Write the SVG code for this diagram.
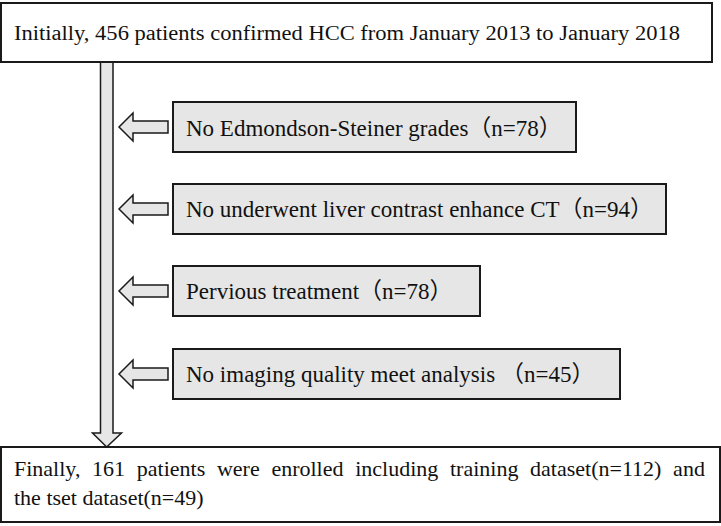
<svg xmlns="http://www.w3.org/2000/svg" width="721" height="526" viewBox="0 0 721 526">
<style>
.box{fill:#fff;stroke:#1a1a1a;stroke-width:2}
.ex{fill:#e6e6e6;stroke:#1a1a1a;stroke-width:2}
.arr{fill:#e6e6e6;stroke:#1a1a1a;stroke-width:1.5}
text{font-family:"Liberation Serif","Noto Sans CJK SC",serif;font-size:22px;fill:#111}
.et{font-size:23px}
</style>
<rect width="721" height="526" fill="#fff"/>
<g id="connectors">
<path class="arr" d="M100.5,62 L113,62 L113,433 L121.5,433 L106.7,447 L92.5,433 L100.5,433 Z"/>
<path class="arr" d="M168,121 L133,121 L133,113 L119,127 L133,141 L133,133 L168,133 Z"/>
<path class="arr" d="M168,203 L133,203 L133,195 L119,209 L133,223 L133,215 L168,215 Z"/>
<path class="arr" d="M168,285 L133,285 L133,277 L119,291 L133,305 L133,297 L168,297 Z"/>
<path class="arr" d="M168,368 L133,368 L133,360 L119,374 L133,388 L133,380 L168,380 Z"/>
</g>
<g id="start">
<rect class="box" x="1" y="3" width="711" height="59"/>
<text x="14" y="40" style="font-size:20px" textLength="666" lengthAdjust="spacingAndGlyphs">Initially, 456 patients confirmed HCC from January 2013 to January 2018</text>
</g>
<g id="ex1">
<rect class="ex" x="173" y="102" width="403" height="50"/>
<text class="et" x="186" y="136">No Edmondson-Steiner grades（n=78）</text>
</g>
<g id="ex2">
<rect class="ex" x="173" y="184" width="493" height="50"/>
<text class="et" x="186" y="217">No underwent liver contrast enhance CT（n=94）</text>
</g>
<g id="ex3">
<rect class="ex" x="173" y="266" width="307" height="50"/>
<text class="et" x="186" y="299">Pervious treatment（n=78）</text>
</g>
<g id="ex4">
<rect class="ex" x="173" y="349" width="447" height="50"/>
<text class="et" x="186" y="382">No imaging quality meet analysis （n=45）</text>
</g>
<g id="final">
<rect class="box" x="1" y="447" width="719" height="75"/>
<text x="14" y="476" word-spacing="6.2">Finally, 161 patients were enrolled including training dataset(n=112) and</text>
<text x="14" y="505">the tset dataset(n=49)</text>
</g>
</svg>
